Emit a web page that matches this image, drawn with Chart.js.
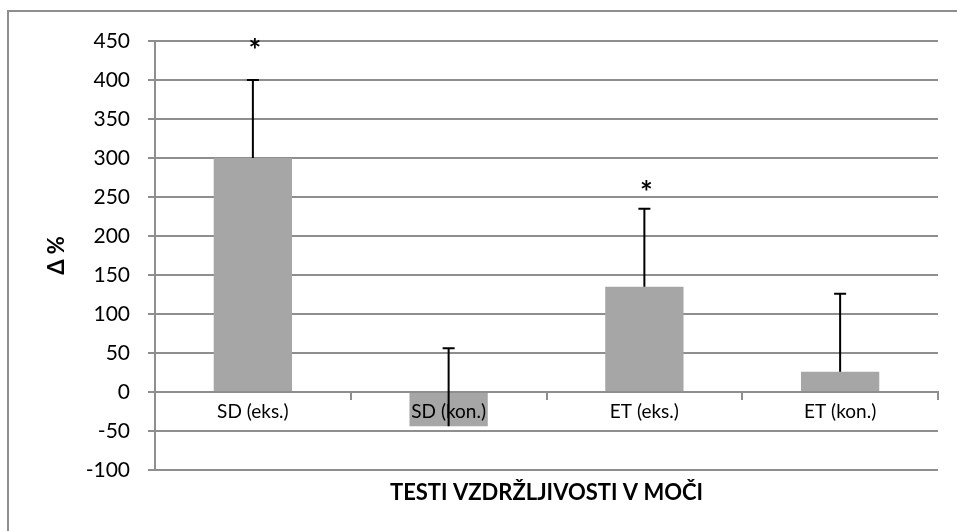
<!DOCTYPE html>
<html lang="sl">
<head>
    <meta charset="UTF-8">
    <title>Testi vzdržljivosti v moči</title>
    <style>
        body {
            margin: 0;
            background-color: #ffffff;
            width: 957px;
            height: 531px;
            overflow: hidden;
            position: relative;
        }
        .frame {
            position: absolute;
            left: 7px;
            top: 10px;
            width: 1000px;
            height: 600px;
            border-top: 2px solid #8e8e8e;
            border-left: 2px solid #8e8e8e;
        }
        canvas {
            position: absolute;
            left: 0;
            top: 0;
        }
    </style>
</head>
<body>
    <div class="frame"></div>
    <canvas id="chart" width="957" height="531"></canvas>

    <script src="https://cdn.jsdelivr.net/npm/chart.js"></script>
    <script>
        // podatki
        const categories = ['SD (eks.)', 'SD (kon.)', 'ET (eks.)', 'ET (kon.)'];
        const deltaValues = [300, -44, 135, 26];
        const errorPlus = [100, 100, 100, 100];
        const significance = ['*', '', '*', ''];
        const starLevels = [445, null, 262, null];
        const yMin = -100, yMax = 450, yStep = 50;

        const gridGrey = '#8e8e8e';
        Chart.defaults.font.family = 'Lato';
        Chart.defaults.color = '#000000';

        // error bars (samo plus) in zvezdice, nad osjo
        const errorBars = {
            id: 'errorBars',
            afterDraw(chart) {
                const ctx = chart.ctx;
                const y = chart.scales.y;
                const bars = chart.getDatasetMeta(0).data;
                ctx.save();
                ctx.strokeStyle = '#000000';
                ctx.lineWidth = 2;
                bars.forEach((bar, i) => {
                    const yStart = y.getPixelForValue(deltaValues[i]);
                    const yTop = y.getPixelForValue(deltaValues[i] + errorPlus[i]);
                    ctx.beginPath();
                    ctx.moveTo(bar.x, yStart);
                    ctx.lineTo(bar.x, yTop);
                    ctx.moveTo(bar.x - 6, yTop);
                    ctx.lineTo(bar.x + 6, yTop);
                    ctx.stroke();
                });
                ctx.fillStyle = '#000000';
                ctx.font = 'bold 30px Lato';
                ctx.textAlign = 'center';
                ctx.textBaseline = 'middle';
                bars.forEach((bar, i) => {
                    if (!significance[i]) return;
                    ctx.fillText(significance[i], bar.x + 2, y.getPixelForValue(starLevels[i]) + 6);
                });
                ctx.restore();
            }
        };

        const ctx = document.getElementById('chart').getContext('2d');
        new Chart(ctx, {
            type: 'bar',
            data: {
                labels: categories,
                datasets: [{
                    data: deltaValues,
                    backgroundColor: '#a6a6a6',
                    borderWidth: 0,
                    barPercentage: 0.4,
                    categoryPercentage: 1.0
                }]
            },
            options: {
                responsive: false,
                animation: false,
                layout: { padding: { left: 0, top: 41, right: 19, bottom: 0 } },
                plugins: {
                    legend: { display: false },
                    tooltip: { enabled: false }
                },
                scales: {
                    x: {
                        position: { y: 0 },
                        grid: {
                            drawOnChartArea: false,
                            tickLength: 7,
                            color: gridGrey,
                            lineWidth: 2,
                            z: 1
                        },
                        border: { color: gridGrey, width: 2, z: 1 },
                        ticks: { font: { size: 19 }, color: '#000000', padding: 1, z: 1 }
                    },
                    x2: {
                        type: 'category',
                        labels: categories,
                        position: 'bottom',
                        grid: { display: false, drawTicks: false },
                        border: { display: false },
                        ticks: { display: false },
                        title: {
                            display: true,
                            text: 'TESTI VZDRŽLJIVOSTI V MOČI',
                            font: { size: 22, weight: 'bold' },
                            color: '#000000',
                            padding: { top: 0, bottom: 25 }
                        },
                        afterFit(scale) { scale.height = 61; }
                    },
                    y: {
                        min: yMin,
                        max: yMax,
                        ticks: {
                            stepSize: yStep,
                            font: { size: 21 },
                            color: '#000000',
                            padding: 18
                        },
                        grid: {
                            color: gridGrey,
                            lineWidth: 2,
                            tickLength: 7
                        },
                        border: { color: gridGrey, width: 2 },
                        title: {
                            display: true,
                            text: 'Δ %',
                            font: { size: 22, weight: 'bold' },
                            color: '#000000',
                            padding: { top: 44, bottom: 0 }
                        },
                        afterFit(scale) { scale.width = 155; }
                    }
                }
            },
            plugins: [errorBars]
        });
    </script>
</body>
</html>
